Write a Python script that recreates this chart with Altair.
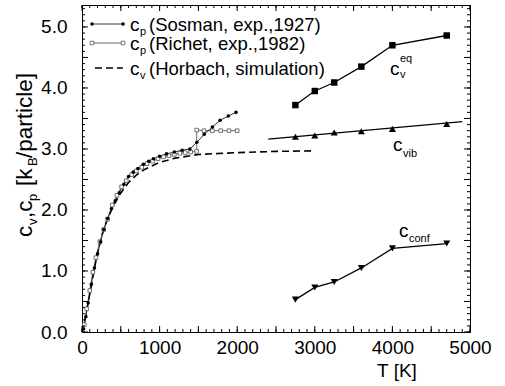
import altair as alt
import pandas as pd

FONT = "Liberation Sans, Arial, sans-serif"

# ---------------- data ----------------
sos_T = [20, 50, 80, 120, 160, 200, 240, 280, 330, 380, 430, 480, 540, 600, 660, 720, 790, 860, 920,
         1000, 1090, 1190, 1290, 1390, 1480, 1575, 1680, 1780, 1885, 1985]
sos_c = [0.05, 0.25, 0.48, 0.78, 1.05, 1.28, 1.48, 1.68, 1.86, 2.02, 2.15, 2.28, 2.42, 2.55, 2.62, 2.68, 2.75, 2.80, 2.84,
         2.88, 2.92, 2.95, 2.98, 3.00, 3.11, 3.24, 3.36, 3.47, 3.54, 3.60]

ric_T = [30, 60, 100, 140, 180, 230, 280, 330, 390, 450, 510, 570, 640, 700, 770, 840, 910, 980, 1050, 1120,
         1190, 1260, 1330, 1400, 1478, 1478, 1572, 1680, 1787, 1894, 2000]
ric_c = [0.12, 0.38, 0.68, 0.98, 1.22, 1.48, 1.68, 1.85, 2.08, 2.24, 2.38, 2.48, 2.58, 2.64, 2.70, 2.76, 2.80, 2.84, 2.87, 2.89,
         2.91, 2.93, 2.94, 2.95, 2.96, 3.31, 3.30, 3.30, 3.30, 3.30, 3.30]

hor_T = [0, 50, 100, 150, 200, 250, 300, 400, 500, 600, 700, 800, 1000, 1200, 1500, 2000, 2500, 3000]
hor_c = [0.0, 0.28, 0.62, 0.98, 1.30, 1.56, 1.76, 2.06, 2.28, 2.45, 2.57, 2.66, 2.78, 2.85, 2.91, 2.94, 2.96, 2.97]

sim_T = [2750, 3000, 3250, 3600, 4000, 4700]
eq_c = [3.72, 3.95, 4.09, 4.35, 4.70, 4.86]
vib_c = [3.20, 3.22, 3.27, 3.29, 3.33, 3.41]
conf_c = [0.53, 0.73, 0.82, 1.05, 1.37, 1.45]
vibfit_T = [2400, 4900]
vibfit_c = [3.16, 3.45]

x_labels = [0, 1000, 2000, 3000, 4000, 5000]
y_labels = [0.0, 1.0, 2.0, 3.0, 4.0, 5.0]
x_minor = list(range(0, 5001, 100))
x_major = list(range(0, 5001, 500))
y_minor = [i / 10 for i in range(0, 54)]
y_major = [i / 2 for i in range(0, 11)]

W, H = 388, 327
XDOM = [0, 5000]
YDOM = [0, 5.36]

xs = alt.Scale(domain=XDOM, nice=False, zero=False)
ys = alt.Scale(domain=YDOM, nice=False, zero=False)
xax = alt.Axis(values=x_labels, ticks=False, domain=False, grid=False, format="d", labelFlush=False,
               labelFont=FONT, labelFontSize=19, labelPadding=6, labelColor="black", title=None)
yax = alt.Axis(values=y_labels, ticks=False, domain=False, grid=False, format=".1f", labelFlush=False,
               labelFont=FONT, labelFontSize=19, labelPadding=15, labelColor="black", title=None)

X = lambda f: alt.X(f, type="quantitative", scale=xs, axis=xax)
Y = lambda f: alt.Y(f, type="quantitative", scale=ys, axis=yax)

sos = pd.DataFrame({"T": sos_T, "c": sos_c})
ric = pd.DataFrame({"T": ric_T, "c": ric_c, "i": list(range(len(ric_T)))})
hor = pd.DataFrame({"T": hor_T, "c": hor_c})
sim = pd.DataFrame({"T": sim_T, "eq": eq_c, "vib": vib_c, "conf": conf_c})
vfit = pd.DataFrame({"T": vibfit_T, "c": vibfit_c})

layers = []
# curves
layers.append(alt.Chart(hor).mark_line(color="black", strokeWidth=1.6, strokeDash=[7, 4]).encode(x=X("T"), y=Y("c")))
layers.append(alt.Chart(ric).mark_line(color="#444", strokeWidth=0.8).encode(x=X("T"), y=Y("c"), order="i:Q"))
layers.append(alt.Chart(sos).mark_line(color="black", strokeWidth=0.8).encode(x=X("T"), y=Y("c")))
layers.append(alt.Chart(ric).mark_point(shape="square", size=13, filled=False, color="#555", strokeWidth=0.8, fill="white", fillOpacity=1, opacity=1).encode(x=X("T"), y=Y("c")))
layers.append(alt.Chart(sos).mark_point(shape="circle", size=13, filled=True, color="black", opacity=1).encode(x=X("T"), y=Y("c")))

layers.append(alt.Chart(sim).mark_line(color="black", strokeWidth=1.3).encode(x=X("T"), y=Y("eq")))
layers.append(alt.Chart(sim).mark_point(shape="square", size=42, filled=True, color="black", opacity=1).encode(x=X("T"), y=Y("eq")))
layers.append(alt.Chart(vfit).mark_line(color="black", strokeWidth=1.3).encode(x=X("T"), y=Y("c")))
layers.append(alt.Chart(sim).mark_point(shape="triangle-up", size=50, filled=True, color="black", opacity=1).encode(x=X("T"), y=Y("vib")))
layers.append(alt.Chart(sim).mark_line(color="black", strokeWidth=1.3).encode(x=X("T"), y=Y("conf")))
layers.append(alt.Chart(sim).mark_point(shape="triangle-down", size=50, filled=True, color="black", opacity=1).encode(x=X("T"), y=Y("conf")))

# inward ticks on all four sides
xt = pd.DataFrame({"t": x_minor})
xtM = pd.DataFrame({"t": x_major})
yt = pd.DataFrame({"t": y_minor})
ytM = pd.DataFrame({"t": y_major})
for df, ln in [(xt, 3), (xtM, 6)]:
    layers.append(alt.Chart(df).mark_rule(color="black", strokeWidth=1).encode(x=X("t"), y=alt.value(H), y2=alt.value(H - ln)))
    layers.append(alt.Chart(df).mark_rule(color="black", strokeWidth=1).encode(x=X("t"), y=alt.value(0), y2=alt.value(ln)))
for df, ln in [(yt, 3), (ytM, 6)]:
    layers.append(alt.Chart(df).mark_rule(color="black", strokeWidth=1).encode(y=Y("t"), x=alt.value(0), x2=alt.value(ln)))
    layers.append(alt.Chart(df).mark_rule(color="black", strokeWidth=1).encode(y=Y("t"), x=alt.value(W), x2=alt.value(W - ln)))

# legend (pixel positions inside plot area)
leg_y = [19, 38, 63]
leg_main = ["c", "c", "c"]
leg_sub = ["p", "p", "v"]
leg_rest = ["(Sosman, exp.,1927)", "(Richet, exp.,1982)", "(Horbach, simulation)"]
PX = lambda f: alt.X(f, type="quantitative", scale=None)
PY = lambda f: alt.Y(f, type="quantitative", scale=None)
legl = pd.DataFrame({"x": [10, 41, 10, 41], "y": [leg_y[0]] * 2 + [leg_y[1]] * 2, "g": ["a", "a", "b", "b"]})
layers.append(alt.Chart(legl[legl.g == "a"]).mark_line(color="black", strokeWidth=0.8).encode(x=PX("x"), y=PY("y")))
layers.append(alt.Chart(legl[legl.g == "a"]).mark_point(shape="circle", size=13, filled=True, color="black", opacity=1).encode(x=PX("x"), y=PY("y")))
layers.append(alt.Chart(legl[legl.g == "b"]).mark_line(color="#444", strokeWidth=0.8).encode(x=PX("x"), y=PY("y")))
layers.append(alt.Chart(legl[legl.g == "b"]).mark_point(shape="square", size=13, filled=False, color="#555", fill="white", fillOpacity=1, strokeWidth=0.8, opacity=1).encode(x=PX("x"), y=PY("y")))
legd = pd.DataFrame({"x": [13, 41], "y": [leg_y[2]] * 2})
layers.append(alt.Chart(legd).mark_line(color="black", strokeWidth=1.6, strokeDash=[7, 4]).encode(x=PX("x"), y=PY("y")))

legt = pd.DataFrame({"y": leg_y, "m": leg_main, "s": leg_sub, "r": leg_rest})
layers.append(alt.Chart(legt).mark_text(font=FONT, fontSize=19, align="left", baseline="alphabetic", dy=7, color="black")
              .encode(x=alt.value(48), y=PY("y"), text="m:N"))
layers.append(alt.Chart(legt).mark_text(font=FONT, fontSize=11, align="left", baseline="alphabetic", dy=11, color="black")
              .encode(x=alt.value(58), y=PY("y"), text="s:N"))
layers.append(alt.Chart(legt).mark_text(font=FONT, fontSize=18.5, align="left", baseline="alphabetic", dy=7, color="black")
              .encode(x=alt.value(67), y=PY("y"), text="r:N"))

# curve annotations
ann_main = pd.DataFrame({"x": [308, 311, 317], "y": [70, 146, 232], "t": ["c", "c", "c"]})
ann_sub = pd.DataFrame({"x": [318, 321, 327], "y": [73, 152, 237], "t": ["v", "vib", "conf"]})
ann_sup = pd.DataFrame({"x": [318], "y": [57], "t": ["eq"]})
layers.append(alt.Chart(ann_main).mark_text(font=FONT, fontSize=19, align="left", baseline="alphabetic", color="black")
              .encode(x=PX("x"), y=PY("y"), text="t:N"))
layers.append(alt.Chart(ann_sub).mark_text(font=FONT, fontSize=11, align="left", baseline="alphabetic", color="black")
              .encode(x=PX("x"), y=PY("y"), text="t:N"))
layers.append(alt.Chart(ann_sup).mark_text(font=FONT, fontSize=11, align="left", baseline="alphabetic", color="black")
              .encode(x=PX("x"), y=PY("y"), text="t:N"))

# y axis title, rotated, built from pieces (pixel positions relative to plot area)
yt_main = pd.DataFrame({"x": [-50, -50, -50, -50], "y": [232, 213, 181, 153], "t": ["c", ",c", "[k", "/particle]"]})
yt_sub = pd.DataFrame({"x": [-45, -45, -45], "y": [220, 196, 161], "t": ["v", "p", "B"]})
layers.append(alt.Chart(yt_main).mark_text(font=FONT, fontSize=22.5, angle=270, align="left", baseline="alphabetic", color="black")
              .encode(x=PX("x"), y=PY("y"), text="t:N"))
layers.append(alt.Chart(yt_sub).mark_text(font=FONT, fontSize=13, angle=270, align="left", baseline="alphabetic", color="black")
              .encode(x=PX("x"), y=PY("y"), text="t:N"))

# x axis title
xtitle = pd.DataFrame({"x": [315], "y": [372], "t": ["T [K]"]})
layers.append(alt.Chart(xtitle).mark_text(font=FONT, fontSize=19, align="center", baseline="alphabetic", color="black")
              .encode(x=PX("x"), y=PY("y"), text="t:N"))

chart = alt.layer(*layers).properties(
    width=W, height=H,
    autosize=alt.AutoSizeParams(type="none"),
    padding={"left": 82, "top": 5, "right": 35, "bottom": 54},
    background="white",
).configure_view(stroke="black", strokeWidth=1)

chart.save("out.html", embed_options={"renderer": "svg", "actions": False})
